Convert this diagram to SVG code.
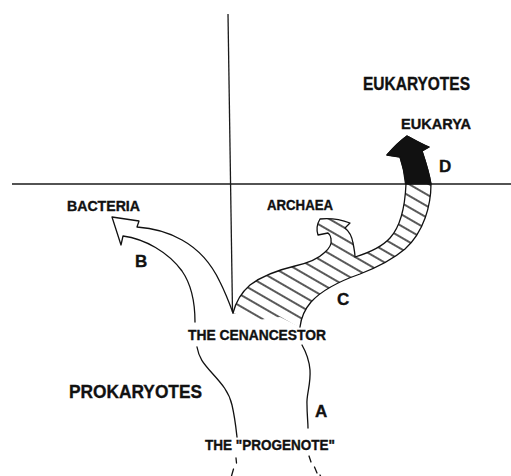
<svg xmlns="http://www.w3.org/2000/svg" width="511" height="476" viewBox="0 0 511 476">
  <style>
    .ln{fill:none;stroke:#111;stroke-width:1.3;stroke-linejoin:round;stroke-linecap:round}
    .axis{fill:none;stroke:#1a1a1a;stroke-width:1.3}
    .lbl{font-family:"Liberation Sans",Arial,Helvetica,sans-serif;font-weight:bold;fill:#111;stroke:#111;stroke-width:0.35}
    .s{font-size:14px}
    .big{font-size:18px}
    .let{font-size:17px}
  </style>
  <defs>
    <!-- diagonal hatching for the archaeal/eukaryal band -->
    <pattern id="hatch" patternUnits="userSpaceOnUse" width="10" height="10" patternTransform="rotate(30)">
      <line x1="-1" y1="5" x2="11" y2="5" stroke="#000" stroke-width="1.3"/>
    </pattern>
    <clipPath id="bandClip">
      <path d="M233,313 C236,301 242,292 250,285 C262,276 278,270 295,266 C308,263 318,259 324,253 C329,249 332,244 331,239 C330.5,236 329.5,234 328,233 L318,235 C316,229 317,224 320,219 C330,218 342,220 350,223 L345,228 C350,232 352,237 353,243 C354,248 355,253 355,257 C368,253 381,248 390,238 C401,226 405,207 406,184 L431,184 C431,205 424,232 405,249 C392,260 378,267 360,274 C340,281 322,290 311,302 C305,309 301,318 300,327 L280,317 L258,320 Z"/>
    </clipPath>
  </defs>

  <!-- reference axes -->
  <g id="axes">
    <line class="axis" x1="12" y1="184" x2="511" y2="184"/>
    <line class="axis" x1="228" y1="14" x2="232.5" y2="312"/>
  </g>

  <g id="connectors">
    <!-- hatched band -->
    <rect x="220" y="180" width="220" height="150" fill="url(#hatch)" clip-path="url(#bandClip)"/>
    <!-- solid eukaryal arrowhead above the line -->
    <path d="M405.5,184 C404.5,172 402,163 400,157 L387,155 C393,148 400,141 407,136 C413,139 421,144 429,147 L422,151 C425,160 429,172 431,184 Z" fill="#111" stroke="#111" stroke-width="1.2" stroke-linejoin="round"/>
    <!-- archaea / eukarya outline -->
    <path class="ln" d="M233,313 C236,301 242,292 250,285 C262,276 278,270 295,266 C308,263 318,259 324,253 C329,249 332,244 331,239 C330.5,236 329.5,234 328,233 L318,235 C316,229 317,224 320,219 C330,218 342,220 350,223 L345,228 C350,232 352,237 353,243 C354,248 355,253 355,257 C368,253 381,248 390,238 C401,226 405,207 406,184 C405,172 402,163 400,157 L387,155 C393,148 400,141 407,136 C413,139 421,144 429,147 L422,151 C425,160 429,172 431,184 C431,205 424,232 405,249 C392,260 378,267 360,274 C340,281 322,290 311,302 C305,309 301,318 300,327"/>
    <!-- bacterial branch -->
    <path class="ln" d="M233,313 C229,302 225,292 220,282 C212,265 200,250 182,240 C168,232 152,228 137,227 L139,221 L112,217 L121,245 L123,236 C145,239 168,252 182,271 C191,284 195,300 195,322"/>
    <!-- trunk below the cenancestor -->
    <path class="ln" d="M197,347 C199,358 203,363 212,373 C222,384 229,392 232,405 C235,418 236,428 237,437"/>
    <path class="ln" d="M302,345 C306,352 309,358 310,370 C311,385 306,395 307,405 C307,415 308,422 308,428"/>
    <!-- broken lines below the progenote -->
    <path class="ln" d="M236,458 L236.5,463 M233.5,469 L231.5,476"/>
    <path class="ln" d="M309,456 L311,462 M314.5,467 L317,473 M320,475 L321,477"/>
  </g>

  <g id="eukaryotes"><text class="lbl big" x="363" y="90" textLength="107" lengthAdjust="spacingAndGlyphs">EUKARYOTES</text></g>
  <g id="prokaryotes"><text class="lbl big" x="69" y="398" style="font-size:19px" textLength="133" lengthAdjust="spacingAndGlyphs">PROKARYOTES</text></g>
  <g id="eukarya"><text class="lbl s" x="401" y="129" textLength="70" lengthAdjust="spacingAndGlyphs">EUKARYA</text></g>
  <g id="bacteria"><text class="lbl s" x="67" y="211" textLength="73" lengthAdjust="spacingAndGlyphs">BACTERIA</text></g>
  <g id="archaea"><text class="lbl s" x="267" y="210" textLength="66" lengthAdjust="spacingAndGlyphs">ARCHAEA</text></g>
  <g id="cenancestor"><text class="lbl s" x="188" y="340" textLength="138" lengthAdjust="spacingAndGlyphs">THE CENANCESTOR</text></g>
  <g id="progenote"><text class="lbl s" x="205" y="450" textLength="130" lengthAdjust="spacingAndGlyphs">THE "PROGENOTE"</text></g>
  <g id="label-a"><text class="lbl let" x="315" y="417">A</text></g>
  <g id="label-b"><text class="lbl let" x="135" y="267">B</text></g>
  <g id="label-c"><text class="lbl let" x="337" y="305">C</text></g>
  <g id="label-d"><text class="lbl let" x="439" y="172">D</text></g>
</svg>
